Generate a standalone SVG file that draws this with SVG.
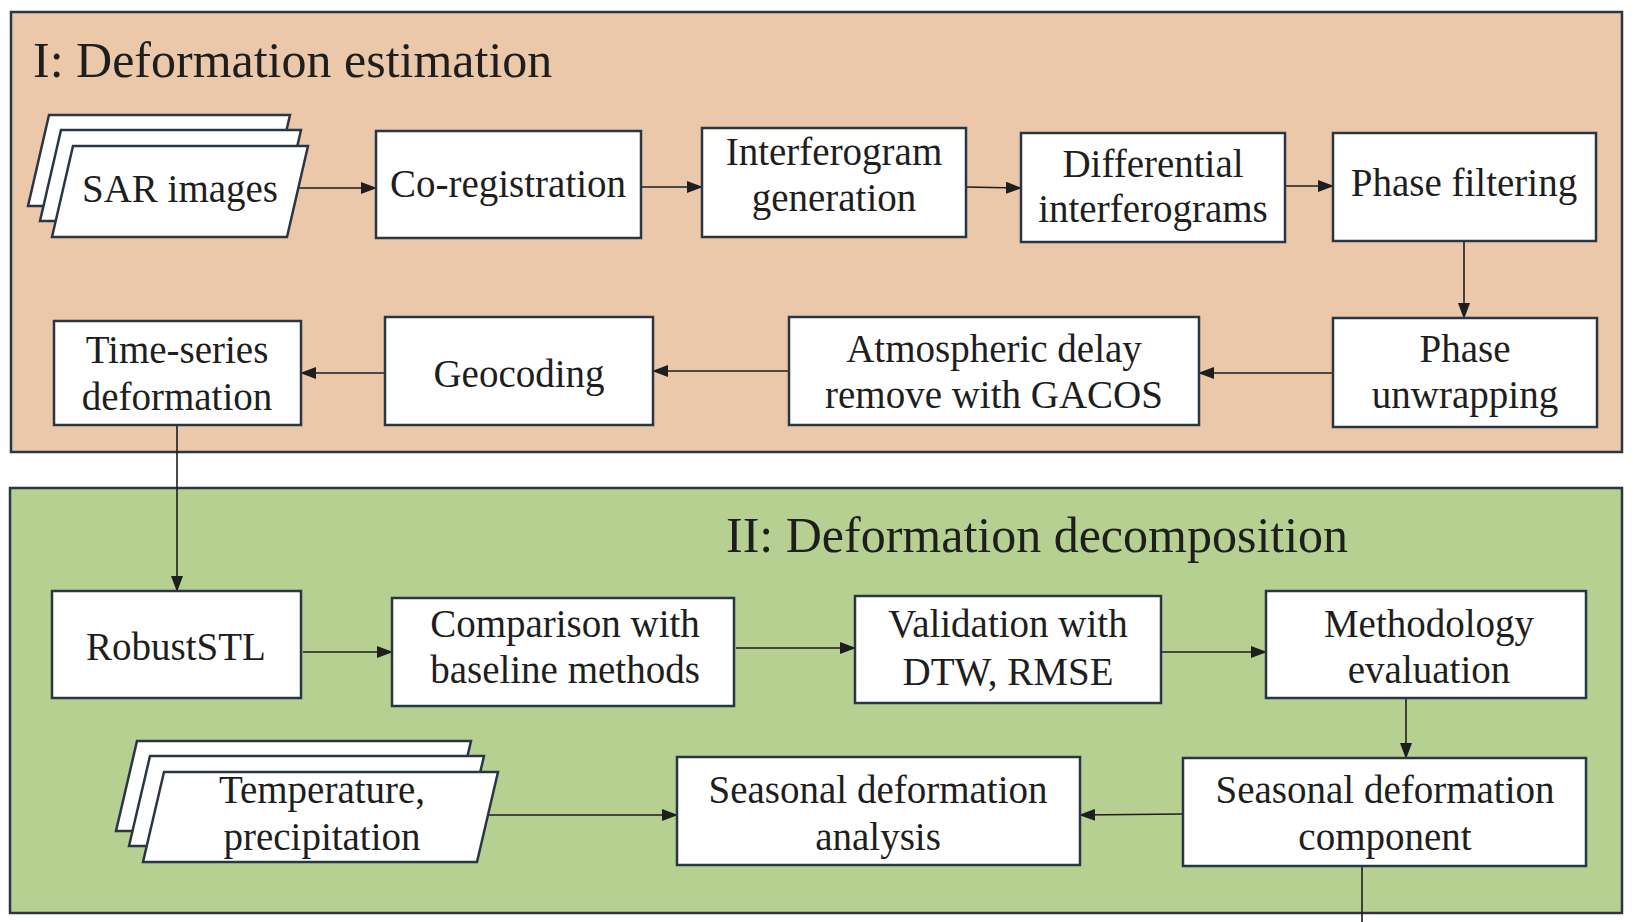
<svg xmlns="http://www.w3.org/2000/svg" width="1635" height="922" viewBox="0 0 1635 922">
<defs>
<marker id="ah" markerUnits="userSpaceOnUse" markerWidth="16" markerHeight="12" refX="15" refY="6" orient="auto">
<path d="M0,0 L16,6 L0,12 Z" fill="#1e1e1e"/>
</marker>
<style>
.panel{stroke:#2e3542;stroke-width:2.5}
.node{fill:#ffffff;stroke:#2b3645;stroke-width:2.5}
.t{font-family:"Liberation Serif","Times New Roman",serif;font-size:39px;fill:#1e1e1e;text-anchor:middle}
.title{font-family:"Liberation Serif","Times New Roman",serif;font-size:50px;fill:#1e1e1e}
.c{fill:none;stroke:#1e1e1e;stroke-width:1.6}
.ca{fill:none;stroke:#1e1e1e;stroke-width:1.6;marker-end:url(#ah)}
</style>
</defs>
<rect width="1635" height="922" fill="#ffffff"/>
<g id="panel-estimation">
<rect class="panel" x="11" y="12" width="1611" height="440" fill="#ecc8ab"/>
<text class="title" x="33" y="77">I: Deformation estimation</text>
</g>
<g id="panel-decomposition">
<rect class="panel" x="10" y="488" width="1612" height="425" fill="#b6d092"/>
<text class="title" x="726" y="552">II: Deformation decomposition</text>
</g>
<g id="connectors">
<line class="ca" x1="289" y1="188" x2="376" y2="188"/>
<line class="ca" x1="641" y1="187" x2="702" y2="187"/>
<line class="ca" x1="966" y1="187" x2="1021" y2="188"/>
<line class="ca" x1="1285" y1="186" x2="1333" y2="186"/>
<line class="ca" x1="1464" y1="241" x2="1464" y2="318"/>
<line class="ca" x1="1333" y1="373" x2="1199" y2="373"/>
<line class="ca" x1="789" y1="371" x2="653" y2="371"/>
<line class="ca" x1="385" y1="373" x2="301" y2="373"/>
<line class="ca" x1="177" y1="425" x2="177" y2="591"/>
<line class="ca" x1="303" y1="652" x2="392" y2="652"/>
<line class="ca" x1="736" y1="648" x2="855" y2="648"/>
<line class="ca" x1="1161" y1="652" x2="1266" y2="652"/>
<line class="ca" x1="1406" y1="698" x2="1406" y2="758"/>
<line class="ca" x1="1183" y1="814" x2="1080" y2="815"/>
<line class="ca" x1="489" y1="815" x2="677" y2="815"/>
<line class="c" x1="1362" y1="866" x2="1362" y2="922"/>
</g>
<g id="sar-images">
<path class="node" d="M49,115 L290,115 L269,206 L28,206 Z"/>
<path class="node" d="M61,130 L301,130 L280,221 L40,221 Z"/>
<path class="node" d="M73,146 L308,146 L287,237 L52,237 Z"/>
<text class="t" x="180" y="202">SAR images</text>
</g>
<g id="co-registration">
<rect class="node" x="376" y="131" width="265" height="107"/>
<text class="t" x="508" y="197">Co-registration</text>
</g>
<g id="interferogram-generation">
<rect class="node" x="702" y="128" width="264" height="109"/>
<text class="t" x="834" y="165">Interferogram</text>
<text class="t" x="834" y="211">generation</text>
</g>
<g id="differential-interferograms">
<rect class="node" x="1021" y="133" width="264" height="109"/>
<text class="t" x="1153" y="177">Differential</text>
<text class="t" x="1153" y="222">interferograms</text>
</g>
<g id="phase-filtering">
<rect class="node" x="1333" y="133" width="263" height="108"/>
<text class="t" x="1464" y="196">Phase filtering</text>
</g>
<g id="phase-unwrapping">
<rect class="node" x="1333" y="318" width="264" height="109"/>
<text class="t" x="1465" y="362">Phase</text>
<text class="t" x="1465" y="408">unwrapping</text>
</g>
<g id="atmospheric-delay">
<rect class="node" x="789" y="317" width="410" height="108"/>
<text class="t" x="994" y="362">Atmospheric delay</text>
<text class="t" x="994" y="408">remove with GACOS</text>
</g>
<g id="geocoding">
<rect class="node" x="385" y="317" width="268" height="108"/>
<text class="t" x="519" y="387">Geocoding</text>
</g>
<g id="time-series-deformation">
<rect class="node" x="54" y="321" width="247" height="104"/>
<text class="t" x="177" y="363">Time-series</text>
<text class="t" x="177" y="410">deformation</text>
</g>
<g id="robuststl">
<rect class="node" x="52" y="591" width="249" height="107"/>
<text class="t" x="176" y="660">RobustSTL</text>
</g>
<g id="comparison">
<rect class="node" x="392" y="598" width="342" height="108"/>
<text class="t" x="565" y="637">Comparison with</text>
<text class="t" x="565" y="683">baseline methods</text>
</g>
<g id="validation">
<rect class="node" x="855" y="596" width="306" height="107"/>
<text class="t" x="1008" y="637">Validation with</text>
<text class="t" x="1008" y="685">DTW, RMSE</text>
</g>
<g id="methodology-evaluation">
<rect class="node" x="1266" y="591" width="320" height="107"/>
<text class="t" x="1429" y="637">Methodology</text>
<text class="t" x="1429" y="683">evaluation</text>
</g>
<g id="seasonal-component">
<rect class="node" x="1183" y="758" width="403" height="108"/>
<text class="t" x="1385" y="803">Seasonal deformation</text>
<text class="t" x="1385" y="850">component</text>
</g>
<g id="seasonal-analysis">
<rect class="node" x="677" y="757" width="403" height="108"/>
<text class="t" x="878" y="803">Seasonal deformation</text>
<text class="t" x="878" y="850">analysis</text>
</g>
<g id="temperature-precipitation">
<path class="node" d="M137,741 L471,741 L450,831 L116,831 Z"/>
<path class="node" d="M150,756 L484,756 L463,846 L129,846 Z"/>
<path class="node" d="M164,772 L498,772 L477,862 L143,862 Z"/>
<text class="t" x="322" y="803">Temperature,</text>
<text class="t" x="322" y="850">precipitation</text>
</g>
</svg>
